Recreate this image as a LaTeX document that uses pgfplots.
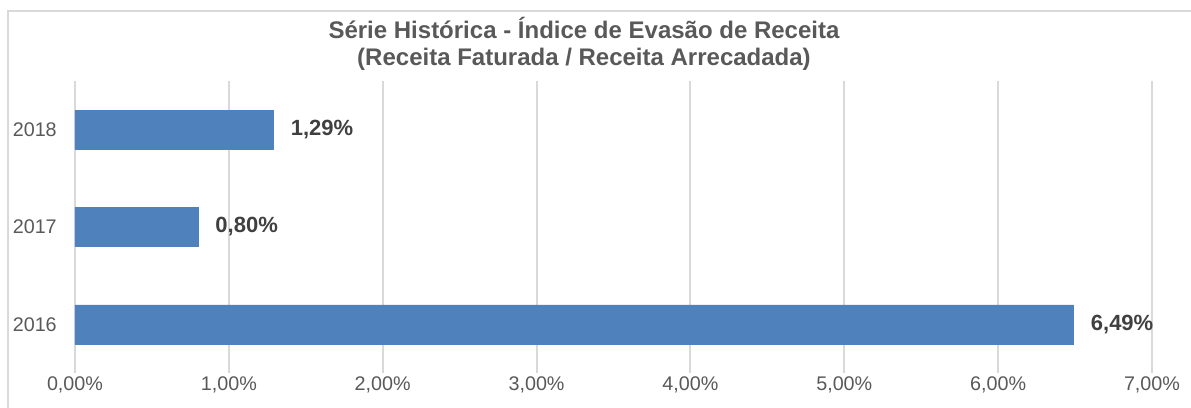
\documentclass[border=0pt]{standalone}
\usepackage{pgfplots}
\pgfplotsset{compat=1.18}
\usepackage{fontspec}
\setmainfont{Liberation Sans}
\definecolor{barblue}{HTML}{4F81BD}
\definecolor{gridgray}{HTML}{D9D9D9}
\definecolor{txtgray}{HTML}{595959}
\definecolor{lblgray}{HTML}{404040}
\begin{document}
\begin{tikzpicture}
\path[use as bounding box] (-56.25pt,-25.5pt) rectangle (837pt,279.75pt);
\draw[gridgray, line width=1.3pt] (-50.25pt,-40pt) -- (-50.25pt,271.5pt) -- (850pt,271.5pt);
\begin{axis}[
  at={(0,0)}, anchor=south west,
  scale only axis,
  width=807.75pt, height=219pt,
  xmin=0, xmax=7, ymin=-0.5, ymax=2.5,
  xbar, bar width=29.25pt,
  axis line style={draw=none},
  major tick length=0pt,
  xtick={0,1,2,3,4,5,6,7},
  xticklabels={{0,00\%},{1,00\%},{2,00\%},{3,00\%},{4,00\%},{5,00\%},{6,00\%},{7,00\%}},
  ytick={0,1,2},
  yticklabels={2016,2017,2018},
  xmajorgrids, grid style={gridgray, line width=1.4pt},
  tick label style={font=\fontsize{14.8pt}{17pt}\selectfont, text=txtgray},
  xticklabel style={anchor=center, yshift=-9pt, inner sep=0pt},
  yticklabel style={anchor=east, inner sep=0pt, xshift=-13.5pt},
  point meta=explicit symbolic,
  nodes near coords,
  nodes near coords style={anchor=west, xshift=9.5pt, font=\fontsize{16.5pt}{19pt}\selectfont\bfseries, text=lblgray},
  clip=false,
]
\addplot[fill=barblue, draw=barblue] coordinates {
  (6.49,0) [6,49\%]
  (0.80,1) [0,80\%]
  (1.29,2) [1,29\%]
};
\end{axis}
\node[align=center, text=txtgray, font=\fontsize{18pt}{20.25pt}\selectfont\bfseries] at (381.75pt,247.1pt)
  {Série Histórica - Índice de Evasão de Receita\\(Receita Faturada / Receita Arrecadada)};
\end{tikzpicture}
\end{document}
